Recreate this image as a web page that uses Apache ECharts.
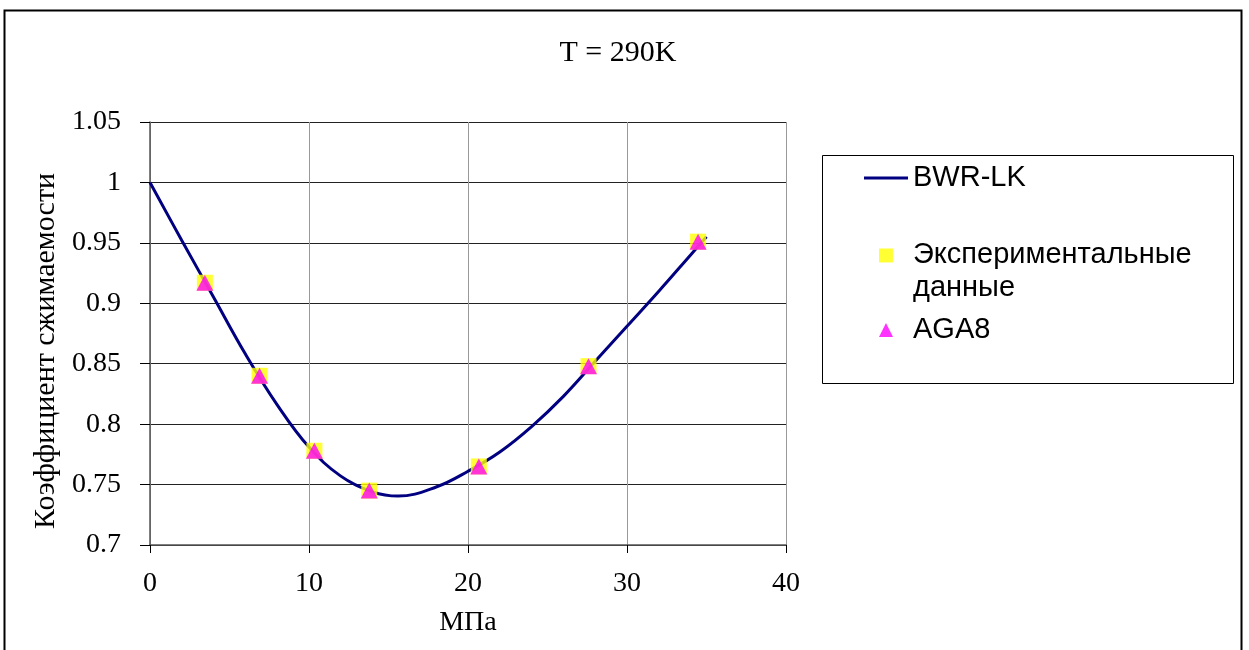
<!DOCTYPE html>
<html>
<head>
<meta charset="utf-8">
<title>T = 290K</title>
<script src="https://cdn.jsdelivr.net/npm/echarts@6/dist/echarts.min.js"></script>
<style>
  html, body { margin: 0; padding: 0; background: #fff; }
  #chart { width: 1249px; height: 650px; }
</style>
</head>
<body>
<div id="chart"></div>
<script>
// Pressure ticks (MPa) and compressibility ticks
const xTicks = [0, 10, 20, 30, 40];
const yTicks = [0.7, 0.75, 0.8, 0.85, 0.9, 0.95, 1, 1.05];

// BWR-LK equation of state curve: pressure (MPa) and Z
const bwrPressure = [0, 2, 4, 6, 8, 10, 12, 14, 15.6, 18, 20, 22, 24, 26, 28, 30, 32, 34, 35];
const bwrZ        = [1.000, 0.952, 0.905, 0.858, 0.816, 0.781, 0.757, 0.744, 0.7405, 0.748, 0.761, 0.777, 0.798, 0.823, 0.852, 0.881, 0.910, 0.940, 0.955];

// Measured points and AGA8 model values at the same pressures
const measPressure = [3.45, 6.89, 10.34, 13.79, 20.68, 27.58, 34.47];
const expZ  = [0.917, 0.840, 0.778, 0.745, 0.765, 0.848, 0.951];
const aga8Z = [0.917, 0.840, 0.778, 0.745, 0.765, 0.848, 0.951];

const serif = '"Liberation Serif", "Times New Roman", serif';
const sans = '"Liberation Sans", Arial, sans-serif';

const bwrName = 'BWR-LK';
const expName = 'Экспериментальные\nданные';
const agaName = 'AGA8';

const pairs = (xs, ys) => xs.map((x, i) => [x, ys[i]]);

const chart = echarts.init(document.getElementById('chart'), null, { renderer: 'canvas' });

const legendText = { fontFamily: sans, fontSize: 29, color: '#000', lineHeight: 33 };

chart.setOption({
  animation: false,
  backgroundColor: '#fff',
  title: {
    text: 'T = 290K',
    left: 613,
    textAlign: 'center',
    top: 33,
    textStyle: { fontFamily: serif, fontSize: 30, fontWeight: 'normal', color: '#000' }
  },
  graphic: [
    { type: 'rect', shape: { x: 4.5, y: 10.5, width: 1237, height: 700 },
      style: { fill: 'none', stroke: '#000', lineWidth: 2 }, silent: true, z: -1 },
    { type: 'rect', shape: { x: 822.5, y: 155.5, width: 411, height: 228 },
      style: { fill: 'none', stroke: '#000', lineWidth: 1 }, silent: true }
  ],
  legend: [
    { data: [{ name: bwrName, icon: 'path://M0,0L44,0L44,3L0,3Z' }],
      left: 864, top: 161.5, padding: 0, itemWidth: 44, itemHeight: 14,
      textStyle: legendText },
    { data: [{ name: expName, icon: 'path://M0,0L1,0L1,1L0,1Z M0,3.3L0,3.3' }],
      left: 879, top: 238.5, padding: 0, itemWidth: 44, itemHeight: 46, textStyle: legendText },
    { data: [{ name: agaName, icon: 'path://M0.5,0L1,1L0,1Z' }],
      left: 879, top: 313.5, padding: 0, itemWidth: 44, itemHeight: 14, textStyle: legendText }
  ],
  grid: { left: 150, top: 122, width: 636, height: 423, containLabel: false },
  xAxis: {
    type: 'value',
    min: xTicks[0], max: xTicks[xTicks.length - 1], interval: 10,
    name: 'МПа', nameLocation: 'middle', nameGap: 64,
    nameTextStyle: { fontFamily: serif, fontSize: 28, color: '#000' },
    axisLine: { show: true, onZero: false, lineStyle: { color: '#555', width: 1.5 } },
    axisTick: { show: true, inside: false, length: 8, lineStyle: { color: '#000' } },
    axisLabel: { fontFamily: serif, fontSize: 28, color: '#000', margin: 25 },
    splitLine: { show: true, lineStyle: { color: '#999', width: 1 } }
  },
  yAxis: {
    type: 'value',
    min: yTicks[0], max: yTicks[yTicks.length - 1], interval: 0.05,
    name: 'Коэффициент сжимаемости', nameLocation: 'middle', nameGap: 89,
    nameTextStyle: { fontFamily: serif, fontSize: 30, color: '#000', padding: [0, 35, 0, 0] },
    axisLine: { show: true, onZero: false, lineStyle: { color: '#555', width: 1.5 } },
    axisTick: { show: true, inside: false, length: 10, lineStyle: { color: '#000' } },
    axisLabel: {
      fontFamily: serif, fontSize: 28, color: '#000', margin: 29,
      formatter: v => String(Math.round(v * 100) / 100)
    },
    splitLine: { show: true, lineStyle: { color: '#222', width: 1 } }
  },
  series: [
    {
      name: bwrName, type: 'line', data: pairs(bwrPressure, bwrZ),
      smooth: 0.4, symbol: 'none', showSymbol: false,
      lineStyle: { color: '#000080', width: 3 }, itemStyle: { color: '#000080' }, z: 2
    },
    {
      name: expName, type: 'scatter', data: pairs(measPressure, expZ),
      symbol: 'rect', symbolSize: 16, itemStyle: { color: '#ffff00' }, z: 3
    },
    {
      name: agaName, type: 'scatter', data: pairs(measPressure, aga8Z),
      symbol: 'triangle', symbolSize: [17, 16], itemStyle: { color: '#ff00ff' }, z: 4
    }
  ]
});
</script>
</body>
</html>
